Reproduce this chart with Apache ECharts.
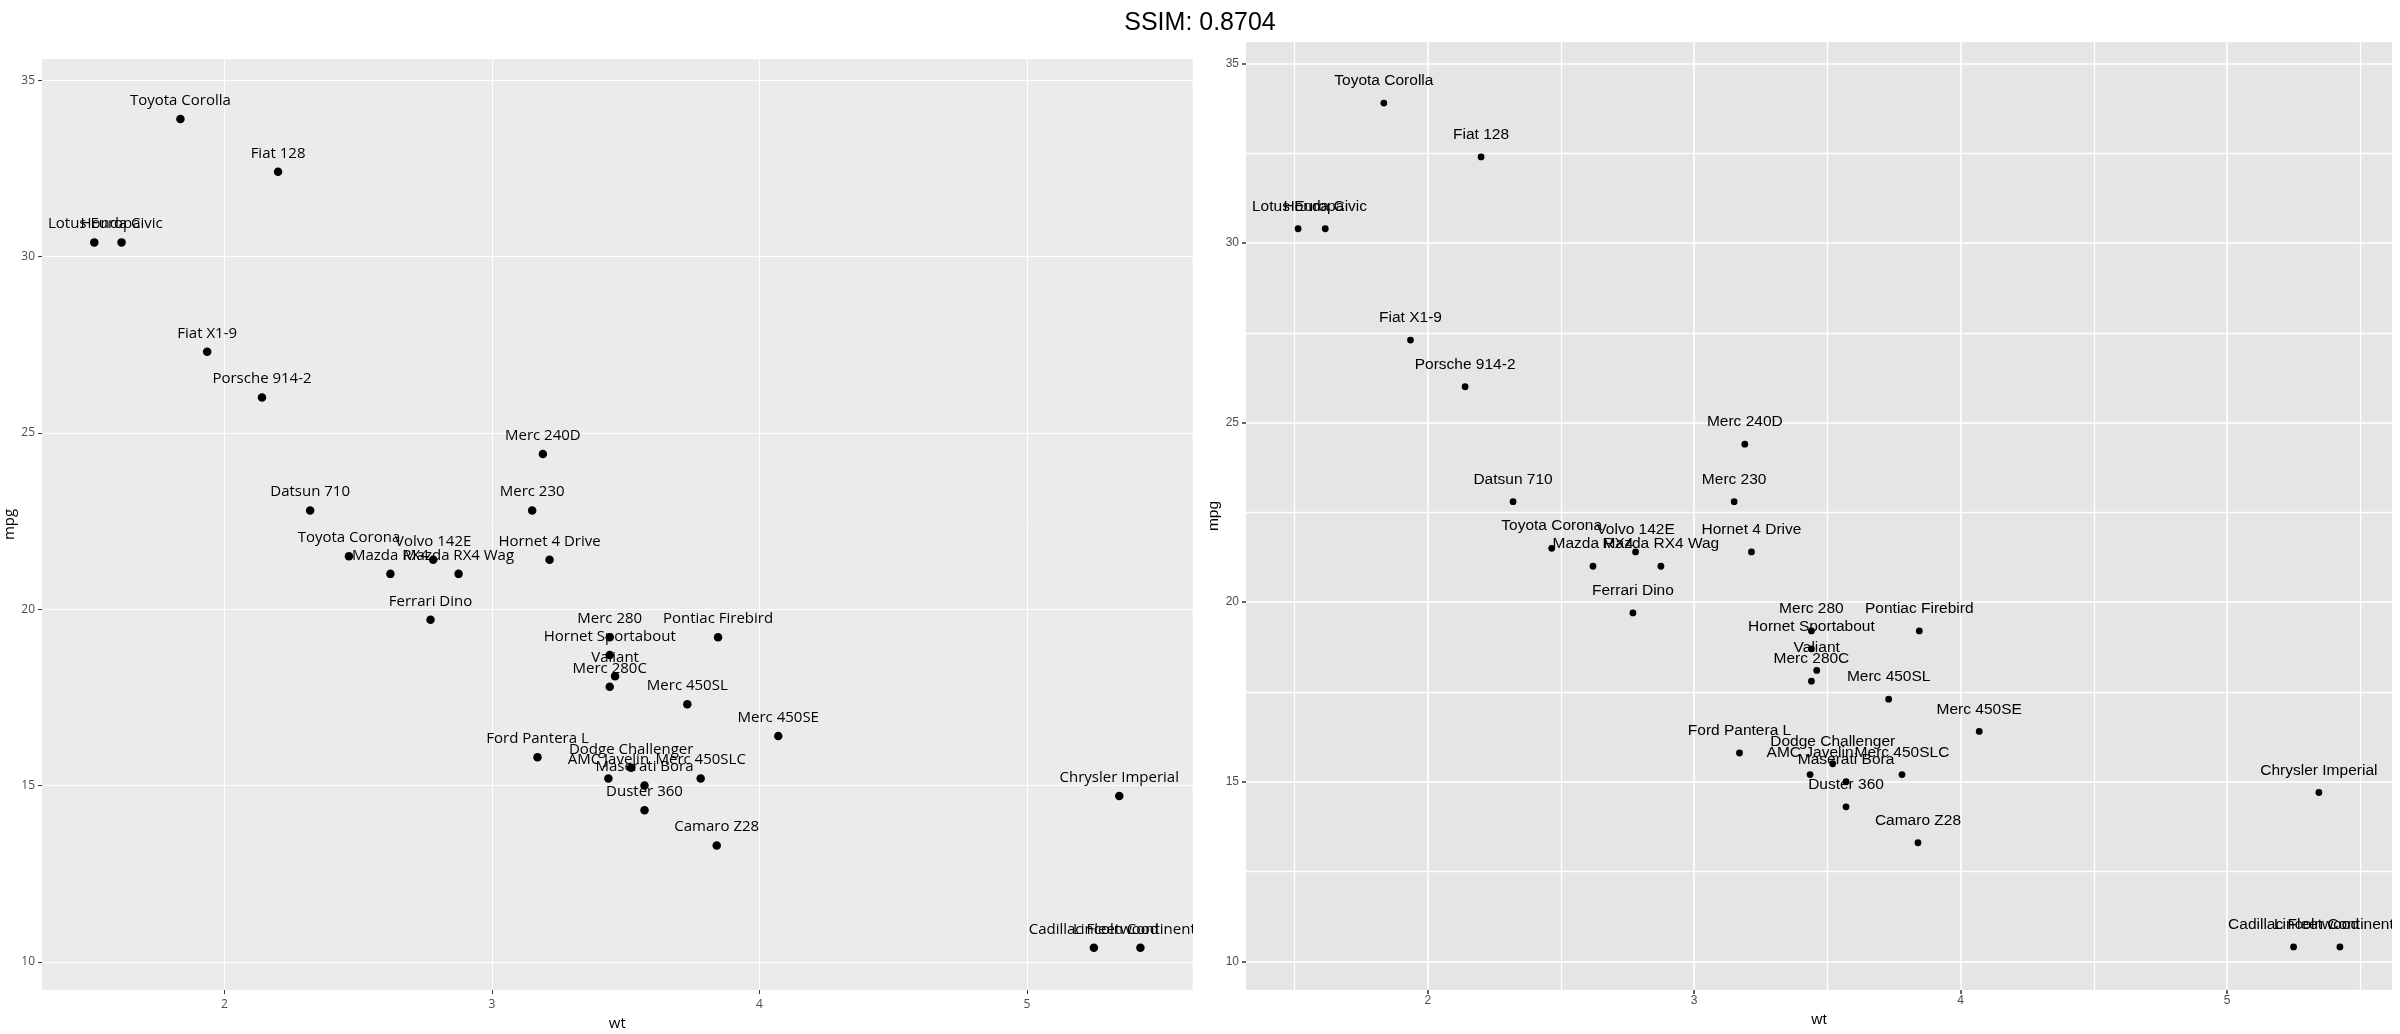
<!DOCTYPE html>
<html>
<head>
<meta charset="utf-8">
<script src="https://cdn.jsdelivr.net/npm/echarts@6/dist/echarts.min.js"></script>
<style>html,body{margin:0;padding:0;background:#fff}#c{width:2400px;height:1034px}</style>
</head>
<body>
<div id="c"></div>
<script>
const cars = ["Mazda RX4","Mazda RX4 Wag","Datsun 710","Hornet 4 Drive","Hornet Sportabout","Valiant","Duster 360","Merc 240D","Merc 230","Merc 280","Merc 280C","Merc 450SE","Merc 450SL","Merc 450SLC","Cadillac Fleetwood","Lincoln Continental","Chrysler Imperial","Fiat 128","Honda Civic","Toyota Corolla","Toyota Corona","Dodge Challenger","AMC Javelin","Camaro Z28","Pontiac Firebird","Fiat X1-9","Porsche 914-2","Lotus Europa","Ford Pantera L","Ferrari Dino","Maserati Bora","Volvo 142E"];
const wt = [2.620,2.875,2.320,3.215,3.440,3.460,3.570,3.190,3.150,3.440,3.440,4.070,3.730,3.780,5.250,5.424,5.345,2.200,1.615,1.835,2.465,3.520,3.435,3.840,3.845,1.935,2.140,1.513,3.170,2.770,3.570,2.780];
const mpg = [21.0,21.0,22.8,21.4,18.7,18.1,14.3,24.4,22.8,19.2,17.8,16.4,17.3,15.2,10.4,10.4,14.7,32.4,30.4,33.9,21.5,15.5,15.2,13.3,19.2,27.3,26.0,30.4,15.8,19.7,15.0,21.4];
const xTicks = [2,3,4,5];
const yTicks = [10,15,20,25,30,35];
const xMinor = [1.5,2.5,3.5,4.5,5.5];
const yMinor = [12.5,17.5,22.5,27.5,32.5];
const titleText = "SSIM: 0.8704";

const pts = wt.map((w,i)=>[w, mpg[i], cars[i]]);
const XMIN = 1.3175, XMAX = 5.6195, YMIN = 9.2, YMAX = 35.6;

function mkAxis(kind, gi, font, ticks, opts) {
  const isX = kind === 'x';
  return Object.assign({
    type: 'value', gridIndex: gi,
    min: isX ? XMIN : YMIN, max: isX ? XMAX : YMAX,
    axisLine: {show: false},
    axisTick: {show: true, customValues: ticks, length: 4, lineStyle: {color: '#333333', width: opts.tw}},
    axisLabel: {show: true, customValues: ticks, color: '#4D4D4D', fontFamily: font, fontSize: 12, margin: opts.margin},
    splitLine: {show: true, lineStyle: {color: '#FFFFFF', width: opts.gw}},
    minorTick: {show: false}, minorSplitLine: {show: false},
    name: isX ? 'wt' : 'mpg', nameLocation: 'middle', nameGap: isX ? opts.xGap : opts.yGap,
    nameTextStyle: {color: '#000000', fontFamily: font, fontSize: opts.nfs}
  }, isX ? {position: 'bottom'} : {position: 'left'});
}
function minorAxis(kind, gi, ticks) {
  const isX = kind === 'x';
  return {
    type: 'value', gridIndex: gi,
    min: isX ? XMIN : YMIN, max: isX ? XMAX : YMAX,
    position: isX ? 'top' : 'right',
    axisLine: {show: false},
    axisTick: {show: false, customValues: ticks},
    axisLabel: {show: false, customValues: ticks},
    splitLine: {show: true, lineStyle: {color: '#FFFFFF', width: 1.3}}
  };
}

const chart = echarts.init(document.getElementById('c'), null, {renderer: 'canvas'});
chart.setOption({
  backgroundColor: '#FFFFFF',
  animation: false,
  title: {text: titleText, left: 'center', top: 6, textStyle: {fontFamily: 'Liberation Sans', fontSize: 25, fontWeight: 'normal', color: '#000000'}},
  grid: [
    {left: 42, right: 1207.3, top: 59, bottom: 44, show: true, backgroundColor: '#EBEBEB', borderWidth: 0, outerBoundsMode: 'none', containLabel: false},
    {left: 1246, right: 8, top: 42, bottom: 44, show: true, backgroundColor: '#E5E5E5', borderWidth: 0, outerBoundsMode: 'none', containLabel: false}
  ],
  xAxis: [
    mkAxis('x', 0, 'Open Sans', xTicks, {tw: 1, gw: 1, margin: 9, xGap: 26, nfs: 15}),
    mkAxis('x', 1, 'Liberation Sans', xTicks, {tw: 1.5, gw: 1.6, margin: 5, xGap: 21, nfs: 15.5}),
    minorAxis('x', 1, xMinor)
  ],
  yAxis: [
    mkAxis('y', 0, 'Open Sans', yTicks, {tw: 1, gw: 1, margin: 7, yGap: 22, nfs: 15}),
    mkAxis('y', 1, 'Liberation Sans', yTicks, {tw: 1.5, gw: 1.6, margin: 7, yGap: 24, nfs: 15.5}),
    minorAxis('y', 1, yMinor)
  ],
  graphic: [
    {type: 'rect', z: 100, silent: true, shape: {x: 1193, y: 905, width: 28, height: 45}, style: {fill: '#FFFFFF'}},
    {type: 'rect', z: 100, silent: true, shape: {x: 2392, y: 42, width: 8, height: 948}, style: {fill: '#FFFFFF'}}
  ],
  series: [
    {
      type: 'scatter', xAxisIndex: 0, yAxisIndex: 0, data: pts,
      symbol: 'circle', symbolSize: 8.5, itemStyle: {color: '#000000', opacity: 1},
      label: {show: true, position: 'top', distance: 6.6, formatter: p => p.data[2], color: '#000000', opacity: 1, fontFamily: 'Open Sans', fontSize: 15},
      labelLayout: {hideOverlap: false}, emphasis: {disabled: true}
    },
    {
      type: 'scatter', xAxisIndex: 1, yAxisIndex: 1, data: pts,
      symbol: 'circle', symbolSize: 6.8, itemStyle: {color: '#000000', opacity: 1},
      label: {show: true, position: 'top', distance: 10.8, formatter: p => p.data[2], color: '#000000', opacity: 1, fontFamily: 'Liberation Sans', fontSize: 15.5},
      labelLayout: {hideOverlap: false}, emphasis: {disabled: true}
    }
  ]
});
</script>
</body>
</html>
